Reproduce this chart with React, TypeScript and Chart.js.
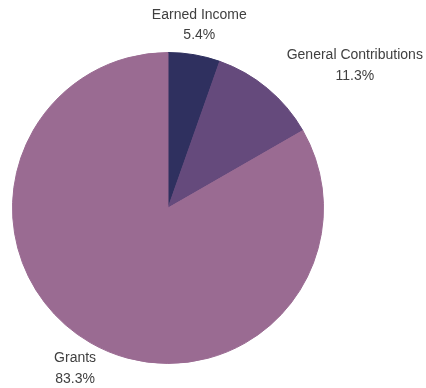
import React, { useEffect, useRef } from "react";
import { Chart, registerables } from "chart.js";

Chart.register(...registerables);

const categories = ["Earned Income", "General Contributions", "Grants"];
const values = [5.4, 11.3, 83.3];
const colors = ["#2f305f", "#654a7c", "#9a6b92"];
const labelAlign = ["center", "left", "center"];

const labelPlugin = {
  id: "outerLabels",
  afterDatasetsDraw(chart: any) {
    const { ctx } = chart;
    const meta = chart.getDatasetMeta(0);
    ctx.save();
    ctx.font = "14px 'Liberation Sans', Arial, sans-serif";
    ctx.fillStyle = "#404040";
    ctx.textBaseline = "middle";
    const lineH = 20.5;
    meta.data.forEach((arc: any, i: number) => {
      const { x, y, startAngle, endAngle, outerRadius } = arc.getProps(
        ["x", "y", "startAngle", "endAngle", "outerRadius"],
        true
      );
      const mid = (startAngle + endAngle) / 2;
      const R = outerRadius + 30;
      const ax = x + Math.cos(mid) * R;
      const ay = y + Math.sin(mid) * R;
      const lines = [categories[i], values[i].toFixed(1) + "%"];
      const w = Math.max(...lines.map((l) => ctx.measureText(l).width));
      let cx = ax;
      if (labelAlign[i] === "left") cx = ax + w / 2;
      else if (labelAlign[i] === "right") cx = ax - w / 2;
      const top = ay - ((lines.length - 1) * lineH) / 2;
      ctx.textAlign = "center";
      lines.forEach((l, k) => ctx.fillText(l, cx, top + k * lineH));
    });
    ctx.restore();
  },
};

export default function App() {
  const ref = useRef<HTMLCanvasElement>(null);
  useEffect(() => {
    document.body.style.margin = "0";
    const chart = new Chart(ref.current!, {
      type: "pie",
      data: {
        labels: categories,
        datasets: [
          {
            data: values,
            backgroundColor: colors,
            borderColor: colors,
            borderWidth: 1,
          },
        ],
      },
      options: {
        responsive: false,
        animation: false,
        layout: { padding: { left: 12, right: 102, top: 52, bottom: 24 } },
        plugins: { legend: { display: false }, tooltip: { enabled: false } },
      },
      plugins: [labelPlugin],
    });
    return () => chart.destroy();
  }, []);
  return (
    <div style={{ width: 426, height: 388, background: "#fff" }}>
      <canvas ref={ref} width={426} height={388} />
    </div>
  );
}
